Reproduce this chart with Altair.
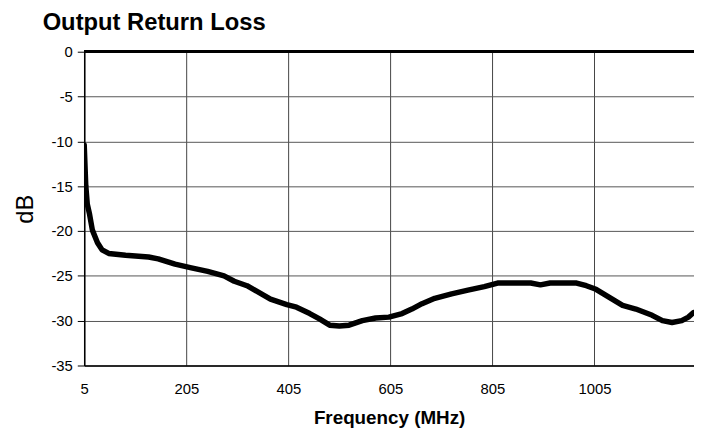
import altair as alt
import pandas as pd

freq = [5, 8, 11, 15, 21, 31, 40, 53, 86, 131, 150, 183, 215, 247, 279, 299, 324, 370, 402, 421,
        447, 466, 486, 505, 524, 550, 576, 602, 628, 647, 667, 692, 725, 757, 789, 815, 880, 899,
        918, 970, 989, 1008, 1034, 1060, 1086, 1118, 1138, 1157, 1176, 1189, 1199]
db = [-10.4, -14.9, -17.0, -18.0, -19.9, -21.3, -22.1, -22.5, -22.7, -22.9, -23.1, -23.7, -24.1,
      -24.5, -25.0, -25.6, -26.1, -27.6, -28.2, -28.5, -29.2, -29.8, -30.5, -30.6, -30.5, -30.0,
      -29.7, -29.6, -29.2, -28.7, -28.1, -27.5, -27.0, -26.6, -26.2, -25.8, -25.8, -26.0, -25.8,
      -25.8, -26.1, -26.5, -27.4, -28.3, -28.7, -29.4, -30.0, -30.2, -30.0, -29.6, -29.1]
x_ticks = [5, 205, 405, 605, 805, 1005]
y_ticks = [0, -5, -10, -15, -20, -25, -30, -35]

df = pd.DataFrame({"freq": freq, "db": db})
FONT = "Liberation Sans"

x_enc = alt.X("freq:Q", scale=alt.Scale(domain=[5, 1200], nice=False, zero=False),
              axis=alt.Axis(values=x_ticks, title="Frequency (MHz)", ticks=False, labelPadding=16,
                            labelExpr="'' + datum.value",
                            labelFontSize=15, labelFont=FONT, labelColor="black",
                            titleFont=FONT, titleFontSize=19, titleFontWeight="bold",
                            titleColor="black", titlePadding=13, domainColor="black",
                            domainWidth=1.5, grid=True, gridColor="#444", gridWidth=1,
                            gridOpacity=1, labelFlush=False))
y_enc = alt.Y("db:Q", scale=alt.Scale(domain=[-35, 0], nice=False),
              axis=alt.Axis(values=y_ticks, title="dB", tickSize=7, tickColor="black",
                            labelExpr="'' + datum.value",
                            labelPadding=5, labelFontSize=15, labelFont=FONT, labelColor="black",
                            titleFont=FONT, titleFontSize=24, titleFontWeight="normal",
                            titleColor="black", titlePadding=14, domainColor="black",
                            domainWidth=1.5, grid=True, gridColor="#555", gridWidth=1,
                            gridOpacity=1))

line = alt.Chart(df).mark_line(color="black", strokeWidth=5.5, strokeJoin="round",
                               strokeCap="round", clip=True).encode(x=x_enc, y=y_enc)
top = alt.Chart(df).mark_rule(color="black", strokeWidth=2).encode(y=alt.datum(0))

chart = alt.layer(line, top).properties(
    width=616, height=317,
    title=alt.TitleParams("Output Return Loss", anchor="start", frame="group", fontSize=24,
                          fontWeight="bold", font=FONT, color="black", dx=-42, offset=10),
    padding={"left": 77, "top": 42, "right": 0, "bottom": 66},
    autosize=alt.AutoSizeParams(type="none"),
).configure_view(stroke="#666", strokeWidth=1).configure(background="white")

chart.save("out.html", embed_options={"renderer": "svg", "actions": False})
